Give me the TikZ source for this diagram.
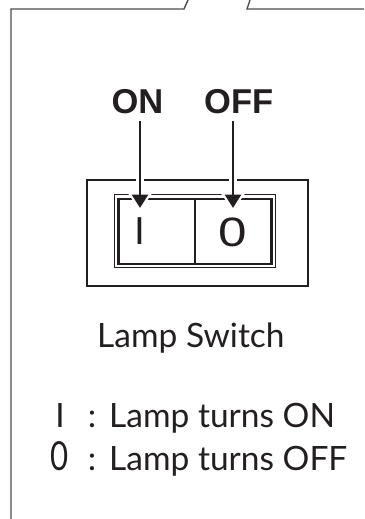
\documentclass[tikz,border=0pt]{standalone}
\usepackage{fontspec}
\setmainfont{Lato}
\newfontfamily\arialfont{Liberation Sans}
\newfontfamily\zerofont[FakeStretch=1.25]{Liberation Sans}
\newfontfamily\narrowzero[FakeStretch=0.78]{Lato}
\usetikzlibrary{arrows.meta}
\definecolor{ink}{HTML}{231F20}
\begin{document}
\begin{tikzpicture}[x=1pt,y=-1pt,
  frame/.style={draw=ink!80, line width=1.4pt},
  thickbox/.style={draw=ink, line width=2.8pt, rectangle, inner sep=0pt},
  thinbox/.style={draw=ink, line width=1.1pt, rectangle, inner sep=0pt},
  divider/.style={draw=ink, line width=1.2pt},
  pointer/.style={draw=ink, line width=2.9pt, -{Triangle[width=16pt,length=13.5pt]}},
  halo/.style={draw=white, line width=8.5pt, -{Triangle[width=26pt,length=20pt]}},
  onoff/.style={inner sep=0pt, text=ink, font=\arialfont\bfseries\fontsize{34.5}{38}\selectfont},
  glyph/.style={inner sep=0pt, text=ink, font=\arialfont\fontsize{39}{42}\selectfont},
  caption/.style={inner sep=0pt, text=ink, font=\fontsize{33.5}{40}\selectfont},
]
\useasboundingbox (0,0) rectangle (364,519);
% outer frame
\draw[frame] (11,519) -- (11,9) -- (184,9) -- (188,0);
\draw[frame] (250,0) -- (247,9) -- (364,9);

% switch housing
\node[thickbox, minimum width=221pt, minimum height=106pt] (housing) at (197.5,233) {};
\node[thinbox, minimum width=161pt, minimum height=73pt] (rimout) at (195,231) {};
\node[thickbox, minimum width=153pt, minimum height=65pt] (rimin) at (195,231.5) {};
\draw[divider] (rimin.north) -- (rimin.south);

% labels
\node[onoff, anchor=base] (on) at (137.5,113) {ON};
\node[onoff, anchor=base west] (off) at (204,113) {OFF};
\coordinate (ontip) at (140,208);
\coordinate (offtip) at (233,208);
\coordinate (onhalo) at (140,211);
\coordinate (offhalo) at (233,211);
\draw[halo, shorten <=55pt] (on.south -| ontip) -- (onhalo);
\draw[halo, shorten <=55pt] (off.south -| offtip) -- (offhalo);
\draw[pointer, shorten <=7pt] (on.south -| ontip) -- (ontip);
\draw[pointer, shorten <=7pt] (off.south -| offtip) -- (offtip);

% switch glyphs
\node[glyph, anchor=base] (sI) at (140,244) {I};
\node[glyph, anchor=base, font=\zerofont\fontsize{41}{44}\selectfont] (s0) at (233,246.5) {0};

% captions
\node[caption, anchor=base west] (title) at (97,347) {Lamp Switch};
\node[caption, anchor=base] (kI) at (60,427) {I};
\node[caption, anchor=base] (c1) at (92,427) {:};
\node[caption, anchor=base west] (t1) at (109,427) {Lamp turns ON};
\node[caption, anchor=base, font=\narrowzero\fontsize{40}{42}\selectfont] (k0) at (59.5,470) {0};
\node[caption, anchor=base] (c2) at (92,470) {:};
\node[caption, anchor=base west] (t2) at (109,470) {Lamp turns OFF};
\end{tikzpicture}
\end{document}
